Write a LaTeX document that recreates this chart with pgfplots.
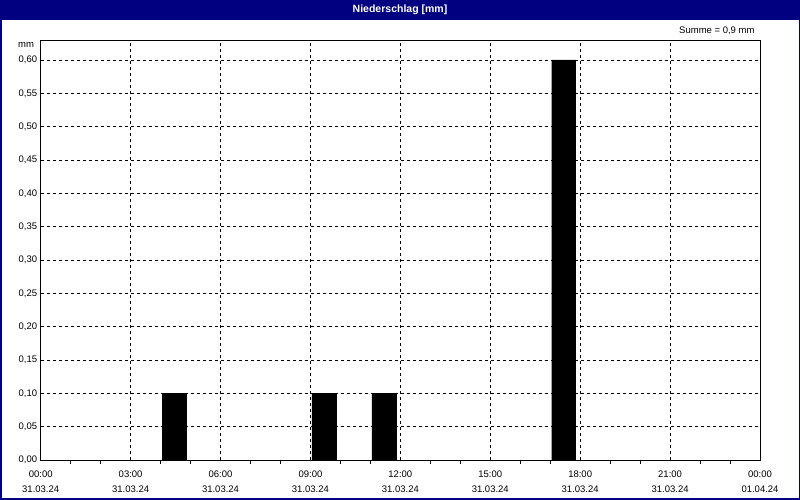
\documentclass[border=0pt]{standalone}
\usepackage{fontspec}
\setmainfont{Liberation Sans}
\usepackage{pgfplots}
\pgfplotsset{compat=1.18}
\definecolor{titlebar}{RGB}{0,0,128}

\begin{document}
\begin{tikzpicture}[x=1pt,y=1pt]
	\useasboundingbox (0,0) rectangle (800,500);
	\fill[white] (0,0) rectangle (800,500);
	% title bar
	\fill[titlebar] (0,479.5) rectangle (800,500);
	\node[white,font=\fontsize{10.5}{12}\selectfont\bfseries] at (400,490) {Niederschlag [mm]};
	\draw[titlebar,line width=1.5pt] (0.75,0.75) rectangle (799.25,499.25);
	\begin{axis}[
		at={(40.7pt,40pt)}, anchor=south west,
		scale only axis,
		width=719.3pt, height=420pt,
		xmin=0, xmax=24,
		ymin=0, ymax=0.63,
		axis line style={black,line width=0.8pt},
		font=\fontsize{9.5}{11}\selectfont,
		/pgf/number format/assume math mode=true,
		xtick={0,3,...,24},
		minor xtick={1,2,4,5,7,8,10,11,13,14,16,17,19,20,22,23},
		xticklabels={{00:00\\31.03.24},{03:00\\31.03.24},{06:00\\31.03.24},{09:00\\31.03.24},{12:00\\31.03.24},{15:00\\31.03.24},{18:00\\31.03.24},{21:00\\31.03.24},{00:00\\01.04.24}},
		xticklabel style={align=center,yshift=-7pt,font=\fontsize{9.5}{15}\selectfont},
		ytick={0,0.05,0.1,0.15,0.2,0.25,0.3,0.35,0.4,0.45,0.5,0.55,0.6},
		yticklabel style={/pgf/number format/.cd,fixed,fixed zerofill,precision=2,use comma},
		scaled y ticks=false,
		tick align=outside,
		major tick length=0pt,
		minor tick length=4pt,
		tick style={black,line width=0.8pt},
		xtick pos=bottom, ytick pos=left,
		grid=major,
		major grid style={black,line width=0.6pt,dash pattern=on 3pt off 3pt},
		clip=false,
	]
		\addplot[ybar, bar width=0.8, fill=black, draw=black] coordinates {
			(4.45,0.1)
			(9.45,0.1)
			(11.45,0.1)
			(17.45,0.6)
		};
	\end{axis}
	\node[anchor=east,font=\fontsize{9.5}{11}\selectfont] at (37.5,455) {mm};
	\node[anchor=east,font=\fontsize{9.5}{11}\selectfont] at (758,469) {Summe = 0,9 mm};
\end{tikzpicture}
\end{document}
